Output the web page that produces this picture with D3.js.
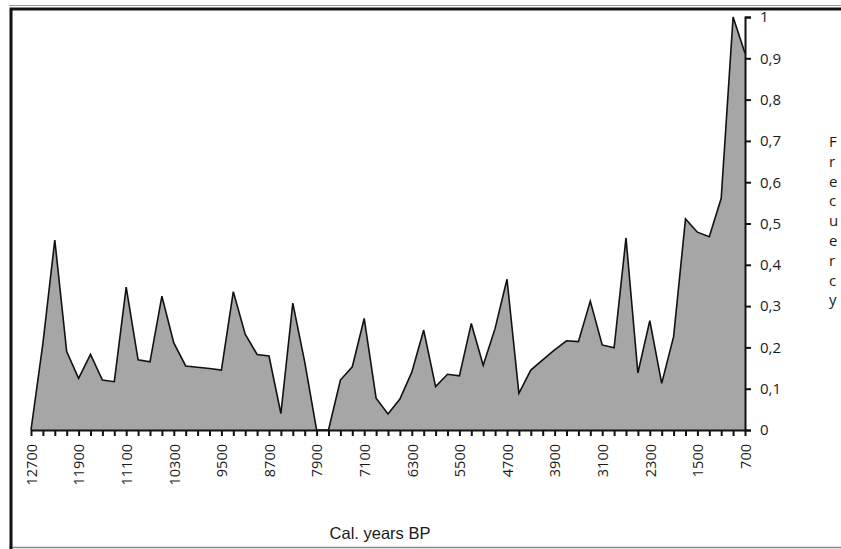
<!DOCTYPE html>
<html>
<head>
<meta charset="utf-8">
<script src="https://cdn.jsdelivr.net/npm/d3@7"></script>
<style>
	html, body { margin: 0; padding: 0; background: #fff; }
	svg { display: block; }
	.axis text { font-family: 'Open Sans', sans-serif; fill: #1a1a1a; }
	.axis path, .axis line { stroke: #111; stroke-width: 2; }
</style>
</head>
<body>
<div id="chart"></div>
<script>
/* global d3 */

// calibrated years BP, one value every 200 years
var years = [12700, 12500, 12300, 12100, 11900, 11700, 11500, 11300, 11100, 10900,
	10700, 10500, 10300, 10100, 9900, 9700, 9500, 9300, 9100, 8900,
	8700, 8500, 8300, 8100, 7900, 7700, 7500, 7300, 7100, 6900,
	6700, 6500, 6300, 6100, 5900, 5700, 5500, 5300, 5100, 4900,
	4700, 4500, 4300, 4100, 3900, 3700, 3500, 3300, 3100, 2900,
	2700, 2500, 2300, 2100, 1900, 1700, 1500, 1300, 1100, 900, 700];

var values = [0, 0.21, 0.46, 0.19, 0.125, 0.183, 0.121, 0.117, 0.346, 0.17,
	0.165, 0.324, 0.211, 0.155, 0.152, 0.149, 0.145, 0.335, 0.232, 0.183,
	0.179, 0.04, 0.307, 0.165, 0, 0, 0.121, 0.153, 0.27, 0.077,
	0.039, 0.075, 0.14, 0.242, 0.105, 0.135, 0.131, 0.258, 0.157, 0.246,
	0.365, 0.089, 0.145, 0.17, 0.194, 0.216, 0.214, 0.312, 0.206, 0.199,
	0.465, 0.138, 0.265, 0.113, 0.226, 0.511, 0.479, 0.468, 0.561, 1.0, 0.912];

var labelYears = [12700, 11900, 11100, 10300, 9500, 8700, 7900, 7100, 6300, 5500, 4700, 3900, 3100, 2300, 1500, 700];
var yTicks = [0, 0.1, 0.2, 0.3, 0.4, 0.5, 0.6, 0.7, 0.8, 0.9, 1];

// right-hand text, one letter per line
var sideLetters = ['F', 'r', 'e', 'c', 'u', 'e', 'r', 'c', 'y'];

var buildAreaChart = function (el) {
	'use strict';

	function AreaChart (el) {
		this.data 	= years.map(function (y, i) { return {year: y, val: values[i]}; });
		this.scales = this.setScales();

		this.svg 	= this.buildSVG(el);
		this.addFrame();
		this.addArea();
		this.xAxis 	= this.addXAxis();
		this.yAxis 	= this.addYAxis();
		this.addTitle();
		this.addSideText();
	}

	AreaChart.prototype = {
		size: {width: 841, height: 549},
		plot: {left: 31, right: 745, top: 17, bottom: 430},

		setScales: function () {
			return {
				x: d3.scaleLinear().domain([12700, 700]).range([this.plot.left, this.plot.right]),
				y: d3.scaleLinear().domain([0, 1]).range([this.plot.bottom, this.plot.top])
			};
		},

		buildSVG: function (el) {
			return d3.select(el).append('svg')
						.attr('width', this.size.width)
						.attr('height', this.size.height);
		},

		addFrame: function () {
			// thin grey outer edges
			this.svg.append('line')
				.attr('x1', 9).attr('x2', this.size.width)
				.attr('y1', 5.5).attr('y2', 5.5)
				.style('stroke', '#9a9a9a').style('stroke-width', 1);
			this.svg.append('line')
				.attr('x1', 9).attr('x2', this.size.width)
				.attr('y1', 547.5).attr('y2', 547.5)
				.style('stroke', '#8a8a8a').style('stroke-width', 1.5);
			// heavy black border, runs off the right and bottom edges
			this.svg.append('rect')
				.attr('x', 11).attr('y', 9)
				.attr('width', 900).attr('height', 600)
				.style('fill', 'none')
				.style('stroke', '#111')
				.style('stroke-width', 3);
		},

		addArea: function () {
			var that = this;
			var area = d3.area()
						.x(function (d) { return that.scales.x(d.year); })
						.y0(that.scales.y(0))
						.y1(function (d) { return that.scales.y(d.val); });
			var line = d3.line()
						.x(function (d) { return that.scales.x(d.year); })
						.y(function (d) { return that.scales.y(d.val); });

			this.svg.append('path')
				.datum(this.data)
				.attr('d', area)
				.style('fill', '#a6a6a6');
			this.svg.append('path')
				.datum(this.data)
				.attr('d', line)
				.style('fill', 'none')
				.style('stroke', '#111')
				.style('stroke-width', 1.6)
				.style('stroke-linejoin', 'miter');
		},

		addXAxis: function () {
			var g = this.svg.append('g')
						.attr('class', 'axis axis--x')
						.attr('transform', 'translate(0,' + this.plot.bottom + ')')
						.call(d3.axisBottom(this.scales.x)
							.tickValues(years)
							.tickSize(6)
							.tickSizeOuter(0)
							.tickFormat(function (d) { return labelYears.indexOf(d) > -1 ? d : ''; }));
			g.attr('font-size', 14.5);
			g.selectAll('.tick text')
				.attr('font-size', 14.5)
				.attr('transform', 'rotate(-90)')
				.attr('text-anchor', 'end')
				.attr('x', -14)
				.attr('y', 0)
				.attr('dy', '0.36em');
			return g;
		},

		addYAxis: function () {
			var g = this.svg.append('g')
						.attr('class', 'axis axis--y')
						.attr('transform', 'translate(' + this.plot.right + ',0)')
						.call(d3.axisRight(this.scales.y)
							.tickValues(yTicks)
							.tickSize(6)
							.tickPadding(9)
							.tickFormat(function (d) { return d3.format('.1~f')(d).replace('.', ','); }));
			g.attr('font-size', 15);
			return g;
		},

		addTitle: function () {
			this.svg.append('text')
				.attr('x', 380)
				.attr('y', 539)
				.attr('text-anchor', 'middle')
				.style('font-family', "'Liberation Sans', Arial, sans-serif")
				.style('font-size', '16.5px')
				.style('fill', '#1a1a1a')
				.text('Cal. years BP');
		},

		addSideText: function () {
			this.svg.append('g')
				.attr('class', 'side')
				.selectAll('text')
				.data(sideLetters)
				.enter().append('text')
					.attr('x', 829)
					.attr('y', function (d, i) { return 147 + i * 19.8; })
					.style('font-family', "'Open Sans', sans-serif")
					.style('font-size', '15px')
					.style('fill', '#1a1a1a')
					.text(function (d) { return d; });
		}
	};

	return new AreaChart(el);
};

buildAreaChart('#chart');
</script>
</body>
</html>
